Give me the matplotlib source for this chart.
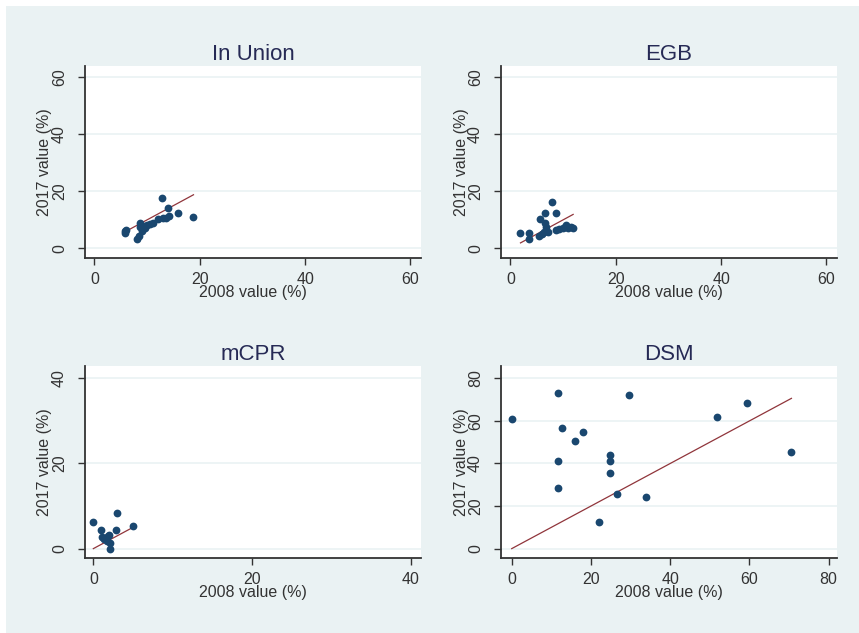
import matplotlib

matplotlib.use("Agg")
import matplotlib.pyplot as plt
from matplotlib.patches import Rectangle

plt.rcParams["font.family"] = ["Liberation Sans", "DejaVu Sans"]

# values (2008 vs 2017, %)
union_x = [5.8, 5.8, 6.0, 8.0, 8.5, 8.7, 8.7, 9.0, 9.3, 9.6, 10.0, 10.5, 11.2, 12.0, 12.8, 13.0, 13.6, 14.0, 14.2, 15.9, 18.8]
union_y = [5.3, 6.0, 6.5, 3.2, 4.2, 9.0, 7.5, 6.2, 7.8, 7.2, 8.2, 8.5, 8.8, 10.3, 17.5, 10.5, 10.8, 14.3, 11.2, 12.3, 11.1]

egb_x = [1.9, 3.6, 3.6, 5.4, 5.6, 5.9, 6.3, 6.5, 6.6, 6.8, 7.1, 7.8, 8.6, 8.7, 9.3, 9.9, 10.3, 10.6, 10.9, 11.5, 11.9]
egb_y = [5.3, 5.4, 3.2, 4.4, 10.3, 5.2, 5.6, 8.8, 12.3, 7.6, 5.9, 16.1, 12.3, 6.4, 6.8, 7.2, 7.6, 8.2, 7.0, 7.4, 7.1]

mcpr_x = [0.0, 1.0, 1.1, 1.3, 1.5, 1.7, 1.9, 2.0, 2.1, 2.1, 2.9, 3.0, 5.0]
mcpr_y = [6.2, 4.4, 2.8, 2.3, 2.5, 1.7, 2.9, 3.3, 1.3, 0.0, 4.4, 8.4, 5.3]

dsm_x = [0.0, 11.8, 11.8, 11.8, 12.8, 16.0, 17.9, 22.1, 24.7, 24.7, 24.7, 26.5, 29.7, 33.9, 51.8, 59.5, 70.6]
dsm_y = [60.8, 73.0, 41.4, 28.4, 56.5, 50.6, 55.0, 12.3, 44.0, 41.4, 35.5, 25.8, 72.0, 24.4, 61.7, 68.6, 45.6]

titles = ["In Union", "EGB", "mCPR", "DSM"]
x_ticks = [[0, 20, 40, 60], [0, 20, 40, 60], [0, 20, 40], [0, 20, 40, 60, 80]]
y_ticks = [[0, 20, 40, 60], [0, 20, 40, 60], [0, 20, 40], [0, 20, 40, 60, 80]]
x_lims = [(-1.8, 62), (-1.8, 62), (-1.05, 41.3), (-2.7, 82.1)]
y_lims = [(-3.4, 64), (-3.4, 64), (-2.2, 42.9), (-4.4, 85.8)]

BG = "#eaf2f3"
NAVY = "#1a476f"
MAROON = "#90353b"
TXT = "#333333"

W, H = 859, 633
fig = plt.figure(figsize=(W / 100, H / 100), dpi=100, facecolor="white")
fig.patches.append(Rectangle((6 / W, 0), (W - 6) / W, (H - 6) / H,
                             transform=fig.transFigure, facecolor=BG, edgecolor="none", zorder=-10))

# axes boxes in pixels: left, top, right, bottom
boxes = [(85, 66, 421, 258), (501, 66, 837, 258), (85, 366, 421, 558), (501, 366, 837, 558)]
data = [(union_x, union_y), (egb_x, egb_y), (mcpr_x, mcpr_y), (dsm_x, dsm_y)]

for i, (box, (xs, ys)) in enumerate(zip(boxes, data)):
    l, t, r, b = box
    ax = fig.add_axes([l / W, (H - b) / H, (r - l) / W, (b - t) / H])
    ax.set_facecolor("white")
    for s in ["top", "right"]:
        ax.spines[s].set_visible(False)
    for s in ["left", "bottom"]:
        ax.spines[s].set_color("#333333")
        ax.spines[s].set_linewidth(1.3)

    ax.set_xlim(*x_lims[i])
    ax.set_ylim(*y_lims[i])
    ax.set_xticks(x_ticks[i])
    ax.set_yticks(y_ticks[i])
    ax.yaxis.grid(True, color=BG, linewidth=1.2)
    ax.set_axisbelow(True)
    ax.tick_params(axis="both", direction="out", length=5, width=1, color="#333333",
                   labelsize=11.5, labelcolor=TXT)
    ax.tick_params(axis="x", pad=5)
    ax.tick_params(axis="y", pad=8, labelrotation=90)
    for lab in ax.get_yticklabels():
        lab.set_va("center")

    # 45-degree reference line over the data range
    lo, hi = min(xs), max(xs)
    ax.plot([lo, hi], [lo, hi], color=MAROON, linewidth=0.9, zorder=2)
    ax.plot(xs, ys, "o", color=NAVY, markersize=5.6, markeredgewidth=0, zorder=3)

    ax.set_title(titles[i], fontsize=16, color="#262a55", pad=4.5)
    ax.set_xlabel("2008 value (%)", fontsize=11.5, color=TXT, va="center")
    ax.xaxis.set_label_coords(0.5, -34 / (b - t))
    ax.set_ylabel("2017 value (%)", fontsize=11.5, color=TXT, va="center")
    ax.yaxis.set_label_coords(-40 / (r - l), 0.5)

fig.savefig("out.png", dpi=100, facecolor="white")
